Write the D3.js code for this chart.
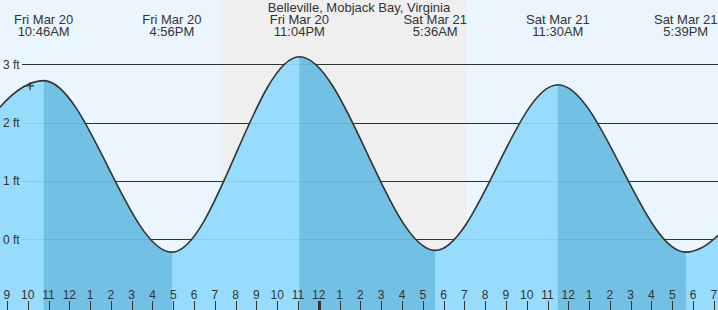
<!DOCTYPE html>
<html>
<head>
<meta charset="utf-8">
<script src="https://cdn.jsdelivr.net/npm/d3@7"></script>
<style>
  body { margin: 0; background: #fff; }
  svg { display: block; font-family: "Liberation Sans", Arial, sans-serif; }
</style>
</head>
<body>
<div id="chart"></div>
<script>
// tide extremes (first and last are off-screen estimates so the curve reaches the edges)
var tideTimes = [
  new Date(2020, 2, 20, 4, 38),
  new Date(2020, 2, 20, 10, 46),
  new Date(2020, 2, 20, 16, 56),
  new Date(2020, 2, 20, 23, 4),
  new Date(2020, 2, 21, 5, 36),
  new Date(2020, 2, 21, 11, 30),
  new Date(2020, 2, 21, 17, 39),
  new Date(2020, 2, 21, 23, 50)
];
var tideHeights = [-0.18, 2.72, -0.22, 3.13, -0.19, 2.65, -0.22, 3.05];
var tideLabeled = [false, true, true, true, true, true, true, false];

var nightStart = new Date(2020, 2, 20, 19, 18);
var nightEnd = new Date(2020, 2, 21, 7, 6);

var nowTime = new Date(2020, 2, 20, 10, 7);
var nowHeight = 2.63;

var yTicks = [0, 1, 2, 3];
var title = "Belleville, Mobjack Bay, Virginia";

var width = 718, height = 310;

var svg = d3.select("#chart").append("svg")
    .attr("width", width)
    .attr("height", height);

var x = d3.scaleTime()
    .domain([new Date(2020, 2, 20, 8, 40), new Date(2020, 2, 21, 19, 12)])
    .range([0, width]);

var y = d3.scaleLinear()
    .domain([0, 3])
    .range([239.3, 64.3]);

var tides = tideTimes.map((t, i) => ({ t: t, h: tideHeights[i], label: tideLabeled[i] }));

// background + night
svg.append("rect")
    .attr("width", width).attr("height", height)
    .style("fill", "#ebf5fe");
svg.append("rect")
    .attr("x", x(nightStart))
    .attr("width", x(nightEnd) - x(nightStart))
    .attr("height", height)
    .style("fill", "#efefef");

// grid lines under the water
var grid = svg.append("g");
grid.selectAll("line")
    .data(yTicks)
    .enter().append("line")
    .attr("x1", 22).attr("x2", width)
    .attr("y1", d => Math.round(y(d)) + 0.5)
    .attr("y2", d => Math.round(y(d)) + 0.5)
    .style("stroke", "#333")
    .style("stroke-width", 1);

var area = d3.area()
    .x(d => x(d.t))
    .y0(height)
    .y1(d => y(d.h))
    .curve(d3.curveMonotoneX);

var line = d3.line()
    .x(d => x(d.t))
    .y(d => y(d.h))
    .curve(d3.curveMonotoneX);

svg.append("defs").append("clipPath")
    .attr("id", "water")
    .append("path")
    .attr("d", area(tides));

svg.append("path")
    .attr("d", area(tides))
    .style("fill", "#97dcfc");

// falling tide = darker band
var falling = [];
for (var i = 0; i < tides.length - 1; i++) {
    if (tides[i].h > tides[i + 1].h) falling.push([tides[i].t, tides[i + 1].t]);
}
svg.append("g")
    .attr("clip-path", "url(#water)")
    .selectAll("rect")
    .data(falling)
    .enter().append("rect")
    .attr("x", d => x(d[0]))
    .attr("width", d => x(d[1]) - x(d[0]))
    .attr("y", 0)
    .attr("height", height)
    .style("fill", "#72c0e4");

// faint grid lines showing through the water
svg.append("g").selectAll("line")
    .data(yTicks)
    .enter().append("line")
    .attr("x1", 22).attr("x2", width)
    .attr("y1", d => Math.round(y(d)) + 0.5)
    .attr("y2", d => Math.round(y(d)) + 0.5)
    .style("stroke", "#333")
    .style("stroke-opacity", 0.1);

svg.append("path")
    .attr("d", line(tides))
    .style("fill", "none")
    .style("stroke", "#333")
    .style("stroke-width", 1.6);

// y labels
svg.append("g").selectAll("text")
    .data(yTicks)
    .enter().append("text")
    .attr("x", 3)
    .attr("y", d => y(d) + 4.5)
    .style("font-size", "12px")
    .style("fill", "#333")
    .text(d => d + " ft");

// hour ticks along the bottom
var hours = x.ticks(d3.timeHour.every(1));
var fmtHour = d3.timeFormat("%-I");
var xAxis = svg.append("g");
xAxis.selectAll("line")
    .data(hours)
    .enter().append("line")
    .attr("x1", d => Math.round(x(d)) + 0.5)
    .attr("x2", d => Math.round(x(d)) + 0.5)
    .attr("y1", 301).attr("y2", height)
    .style("stroke", "#333")
    .style("stroke-width", d => d.getHours() === 0 ? 3 : 1);
xAxis.selectAll("text")
    .data(hours)
    .enter().append("text")
    .attr("x", d => x(d))
    .attr("y", 299)
    .attr("text-anchor", "middle")
    .style("font-size", "12px")
    .style("fill", "#333")
    .text(d => fmtHour(d));

// high / low labels
var fmtDay = d3.timeFormat("%a %b %-d");
var fmtTime = d3.timeFormat("%-I:%M%p");
var lbl = svg.append("g").selectAll("text")
    .data(tides.filter(d => d.label))
    .enter().append("text")
    .attr("text-anchor", "middle")
    .style("font-size", "13px")
    .style("fill", "#333");
lbl.append("tspan")
    .attr("x", d => x(d.t))
    .attr("y", 24)
    .text(d => fmtDay(d.t));
lbl.append("tspan")
    .attr("x", d => x(d.t))
    .attr("y", 36)
    .text(d => fmtTime(d.t));

svg.append("text")
    .attr("x", width / 2)
    .attr("y", 11.5)
    .attr("text-anchor", "middle")
    .style("font-size", "13px")
    .style("fill", "#333")
    .text(title);

// current time marker
var nx = x(nowTime), ny = y(nowHeight);
svg.append("path")
    .attr("d", `M${nx - 4},${ny}H${nx + 4}M${nx},${ny - 4}V${ny + 4}`)
    .style("stroke", "#333")
    .style("stroke-width", 1.2);
</script>
</body>
</html>
